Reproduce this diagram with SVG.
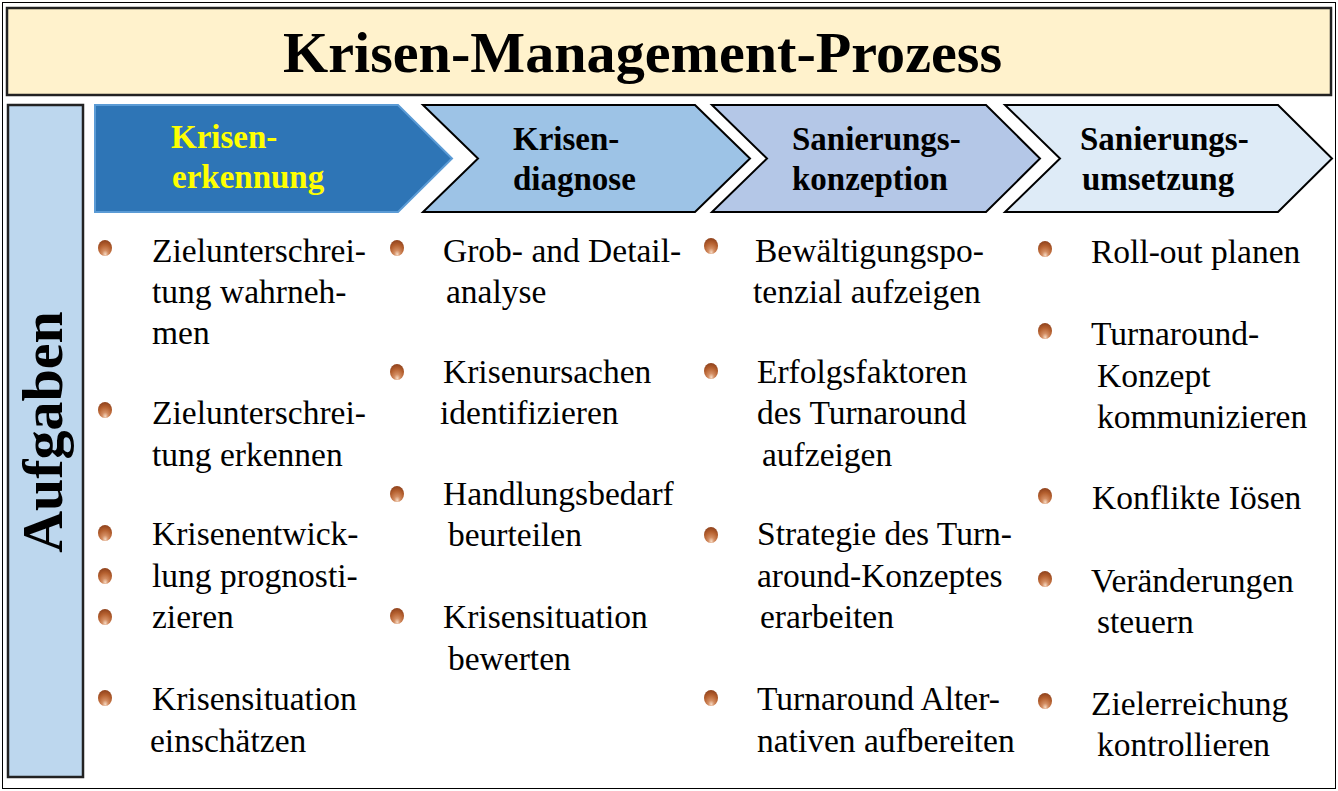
<svg xmlns="http://www.w3.org/2000/svg" width="1338" height="791" viewBox="0 0 1338 791">
<defs>
<radialGradient id="ball" cx="50%" cy="75%" r="70%" fx="52%" fy="90%">
<stop offset="0" stop-color="#F7DCC6"/>
<stop offset="0.3" stop-color="#D38D62"/>
<stop offset="0.7" stop-color="#B5602F"/>
<stop offset="1" stop-color="#94461F"/>
</radialGradient>
</defs>
<style>
.t{font-family:"Liberation Serif","Times New Roman",serif;font-size:33.5px;fill:#000}
.h{font-family:"Liberation Serif","Times New Roman",serif;font-size:33px;font-weight:bold;fill:#000}
.b{fill:url(#ball)}
.ch{stroke:#000;stroke-width:2}
</style>
<rect x="0" y="0" width="1338" height="791" fill="#fff"/>
<rect x="2.5" y="2.5" width="1333" height="786" fill="none" stroke="#000" stroke-width="1"/>
<g id="title">
<rect x="7" y="8" width="1324" height="87" fill="#FFF2CC" stroke="#222" stroke-width="2.5"/>
<text x="283" y="72" font-family="Liberation Serif, serif" font-size="56" font-weight="bold" textLength="719" lengthAdjust="spacingAndGlyphs">Krisen-Management-Prozess</text>
</g>
<g id="aufgaben">
<rect x="8" y="105" width="75" height="672" fill="#BDD7EE" stroke="#222" stroke-width="2.5"/>
<text transform="translate(62,432) rotate(-90)" text-anchor="middle" font-family="Liberation Serif, serif" font-size="58" font-weight="bold">Aufgaben</text>
</g>
<g id="phase1">
<polygon points="95,105 398,105 452,158.5 398,212 95,212" fill="#2E75B6" stroke="#5B9BD5" stroke-width="2"/>
<text class="h" x="171" y="148" style="fill:#FFFF00">Krisen-</text>
<text class="h" x="172" y="188" style="fill:#FFFF00">erkennung</text>
</g>
<g id="phase2">
<polygon class="ch" points="423,105 695,105 750,158.5 695,212 423,212 478,158.5" fill="#9DC3E6"/>
<text class="h" x="513" y="150">Krisen-</text>
<text class="h" x="513" y="190">diagnose</text>
</g>
<g id="phase3">
<polygon class="ch" points="712,105 986,105 1040,158.5 986,212 712,212 767,158.5" fill="#B4C7E7"/>
<text class="h" x="792" y="150">Sanierungs-</text>
<text class="h" x="792" y="190">konzeption</text>
</g>
<g id="phase4">
<polygon class="ch" points="1005,105 1278,105 1332,158.5 1278,212 1005,212 1060,158.5" fill="#DEEBF7"/>
<text class="h" x="1080" y="150">Sanierungs-</text>
<text class="h" x="1082" y="190">umsetzung</text>
</g>
<g id="col1">
<ellipse class="b" cx="105" cy="248" rx="7" ry="8"/>
<text class="t" x="152" y="262">Zielunterschrei-</text>
<text class="t" x="152" y="303">tung wahrneh-</text>
<text class="t" x="152" y="344">men</text>
<ellipse class="b" cx="105" cy="410" rx="7" ry="8"/>
<text class="t" x="152" y="424">Zielunterschrei-</text>
<text class="t" x="152" y="466">tung erkennen</text>
<ellipse class="b" cx="105" cy="533" rx="7" ry="8"/>
<text class="t" x="152" y="545">Krisenentwick-</text>
<ellipse class="b" cx="105" cy="576" rx="7" ry="8"/>
<text class="t" x="152" y="587">lung prognosti-</text>
<ellipse class="b" cx="105" cy="617" rx="7" ry="8"/>
<text class="t" x="152" y="628">zieren</text>
<ellipse class="b" cx="105" cy="698" rx="7" ry="8"/>
<text class="t" x="152" y="710">Krisensituation</text>
<text class="t" x="150" y="752">einschätzen</text>
</g>
<g id="col2">
<ellipse class="b" cx="397" cy="248" rx="7" ry="8"/>
<text class="t" x="443" y="262">Grob- and Detail-</text>
<text class="t" x="446" y="303">analyse</text>
<ellipse class="b" cx="397" cy="372" rx="7" ry="8"/>
<text class="t" x="443" y="383">Krisenursachen</text>
<text class="t" x="440" y="424">identifizieren</text>
<ellipse class="b" cx="397" cy="494" rx="7" ry="8"/>
<text class="t" x="443" y="505">Handlungsbedarf</text>
<text class="t" x="448" y="546">beurteilen</text>
<ellipse class="b" cx="397" cy="616" rx="7" ry="8"/>
<text class="t" x="443" y="628">Krisensituation</text>
<text class="t" x="448" y="670">bewerten</text>
</g>
<g id="col3">
<ellipse class="b" cx="711" cy="246" rx="7" ry="8"/>
<text class="t" x="755" y="262">Bewältigungspo-</text>
<text class="t" x="753" y="303">tenzial aufzeigen</text>
<ellipse class="b" cx="711" cy="371" rx="7" ry="8"/>
<text class="t" x="757" y="383">Erfolgsfaktoren</text>
<text class="t" x="757" y="424"> des Turnaround</text>
<text class="t" x="762" y="466">aufzeigen</text>
<ellipse class="b" cx="711" cy="535" rx="7" ry="8"/>
<text class="t" x="757" y="545">Strategie des Turn-</text>
<text class="t" x="757" y="587">around-Konzeptes</text>
<text class="t" x="760" y="628">erarbeiten</text>
<ellipse class="b" cx="711" cy="698" rx="7" ry="8"/>
<text class="t" x="757" y="710">Turnaround Alter-</text>
<text class="t" x="757" y="752">nativen aufbereiten</text>
</g>
<g id="col4">
<ellipse class="b" cx="1045" cy="249" rx="7" ry="8"/>
<text class="t" x="1091" y="263">Roll-out planen</text>
<ellipse class="b" cx="1045" cy="331" rx="7" ry="8"/>
<text class="t" x="1091" y="345">Turnaround-</text>
<text class="t" x="1097" y="387">Konzept</text>
<text class="t" x="1097" y="428">kommunizieren</text>
<ellipse class="b" cx="1045" cy="496" rx="7" ry="8"/>
<text class="t" x="1092" y="509">Konflikte Iösen</text>
<ellipse class="b" cx="1045" cy="579" rx="7" ry="8"/>
<text class="t" x="1091" y="592">Veränderungen</text>
<text class="t" x="1097" y="633">steuern</text>
<ellipse class="b" cx="1045" cy="701" rx="7" ry="8"/>
<text class="t" x="1091" y="715">Zielerreichung</text>
<text class="t" x="1097" y="756">kontrollieren</text>
</g>
<g id="connectors"></g>
</svg>
